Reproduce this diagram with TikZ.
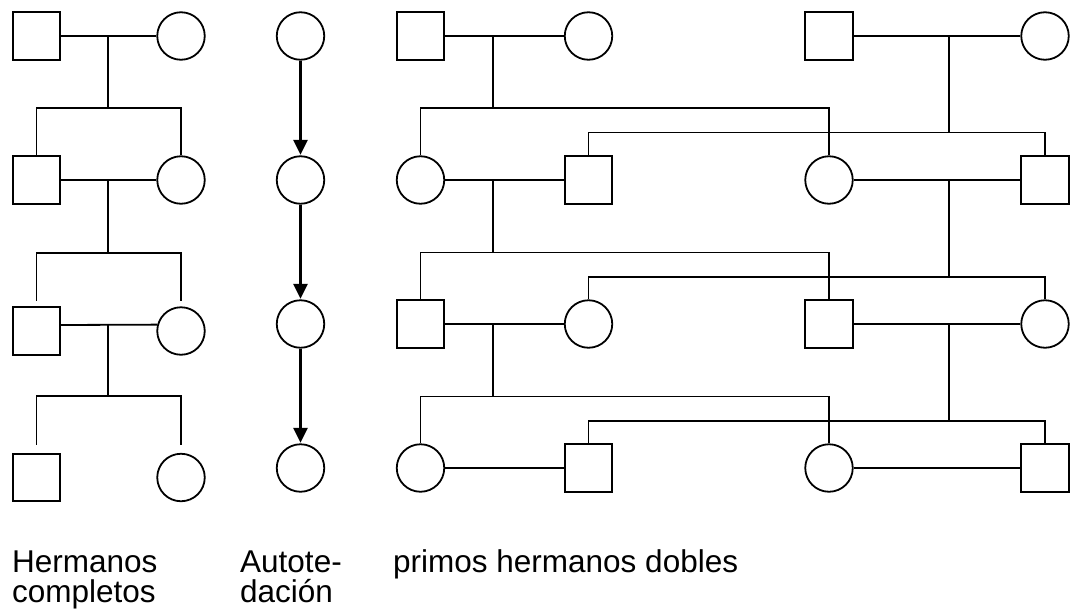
\documentclass[tikz,border=0pt]{standalone}
\usepackage{fontspec}
\setmainfont{Liberation Sans}
\usetikzlibrary{arrows.meta}
\tikzset{
  male/.style={draw, line width=1.8pt, rectangle, minimum size=47.5pt, inner sep=0pt},
  female/.style={draw, line width=1.8pt, circle, minimum size=47.5pt, inner sep=0pt},
  rel/.style={line width=1.8pt},
  descent/.style={line width=2.4pt, -{Triangle[width=14pt,length=15pt]}, shorten >=0.5pt},
  lbl/.style={anchor=base west, inner sep=0pt, align=left, font=\fontsize{31.5}{30.5}\selectfont}
}
\begin{document}
\begin{tikzpicture}[x=1pt, y=-1pt]
\useasboundingbox (0,0) rectangle (1070,610);

% ---------- Hermanos completos ----------
\node[male]   (hs1) at (36.5,36) {};
\node[female] (hc1) at (181,36) {};
\node[male]   (hs2) at (36.5,180) {};
\node[female] (hc2) at (181,180) {};
\node[male]   (hs3) at (36.5,331) {};
\node[female] (hc3) at (181,331) {};
\node[male]   (hs4) at (36.5,477.5) {};
\node[female] (hc4) at (181,477.5) {};

\coordinate (hm1) at (108,36);   \coordinate (hj1) at (108,108);
\coordinate (hm2) at (108,180);  \coordinate (hj2) at (108,253);
\coordinate (hm3) at (108,325);  \coordinate (hj3) at (108,396);
\coordinate (hd3s) at (36.5,300.7); \coordinate (hd3c) at (181,300.7);
\coordinate (hd4s) at (36.5,444.5); \coordinate (hd4c) at (181,444.5);

\draw[rel] (hs1.east) -- (hc1.west);
\draw[rel] (hm1) -- (hj1);
\draw[rel] (hs2.north) |- (hj1) -| (hc2.north);
\draw[rel] (hs2.east) -- (hc2.west);
\draw[rel] (hm2) -- (hj2);
\draw[rel] (hd3s) |- (hj2) -| (hd3c);
\draw[rel] ([yshift=6pt]hs3.east) -- (hc3.165.5);
\draw[rel] (hm3) -- (hj3);
\draw[rel] (hd4s) |- (hj3) -| (hd4c);

% ---------- Autotedacion ----------
\node[female] (a1) at (300.5,36) {};
\node[female] (a2) at (300.5,180) {};
\node[female] (a3) at (300.5,324) {};
\node[female] (a4) at (300.5,468) {};
\draw[descent] (a1.south) -- (a2.north);
\draw[descent] (a2.south) -- (a3.north);
\draw[descent] (a3.south) -- (a4.north);

% ---------- primos hermanos dobles ----------
% row 1
\node[male]   (sA1) at (420.5,36) {};
\node[female] (cB1) at (588.5,36) {};
\node[male]   (sC1) at (829,36) {};
\node[female] (cD1) at (1045,36) {};
% row 2
\node[female] (cA2) at (420.5,180) {};
\node[male]   (sB2) at (588.5,180) {};
\node[female] (cC2) at (829,180) {};
\node[male]   (sD2) at (1045,180) {};
% row 3
\node[male]   (sA3) at (420.5,324) {};
\node[female] (cB3) at (588.5,324) {};
\node[male]   (sC3) at (829,324) {};
\node[female] (cD3) at (1045,324) {};
% row 4
\node[female] (cA4) at (420.5,468) {};
\node[male]   (sB4) at (588.5,468) {};
\node[female] (cC4) at (829,468) {};
\node[male]   (sD4) at (1045,468) {};

\coordinate (m1) at (492.7,36);   \coordinate (j1) at (492.7,108);
\coordinate (m1r) at (948.7,36);  \coordinate (j1r) at (948.7,132.5);
\coordinate (m2) at (492.7,180);  \coordinate (j2) at (492.7,252.5);
\coordinate (m2r) at (948.7,180); \coordinate (j2r) at (948.7,277);
\coordinate (m3) at (492.7,324);  \coordinate (j3) at (492.7,396.5);
\coordinate (m3r) at (948.7,324); \coordinate (j3r) at (948.7,421);

\draw[rel] (sA1.east) -- (cB1.west);
\draw[rel] (sC1.east) -- (cD1.west);
\draw[rel] (m1) -- (j1);
\draw[rel] (m1r) -- (j1r);
\draw[rel] (cA2.north) |- (j1) -| (cC2.north);
\draw[rel] (sB2.north) |- (j1r) -| (sD2.north);

\draw[rel] (cA2.east) -- (sB2.west);
\draw[rel] (cC2.east) -- (sD2.west);
\draw[rel] (m2) -- (j2);
\draw[rel] (m2r) -- (j2r);
\draw[rel] (sA3.north) |- (j2) -| (sC3.north);
\draw[rel] (cB3.north) |- (j2r) -| (cD3.north);

\draw[rel] (sA3.east) -- (cB3.west);
\draw[rel] (sC3.east) -- (cD3.west);
\draw[rel] (m3) -- (j3);
\draw[rel] (m3r) -- (j3r);
\draw[rel] (cA4.north) |- (j3) -| (cC4.north);
\draw[rel] (sB4.north) |- (j3r) -| (sD4.north);

\draw[rel] (cA4.east) -- (sB4.west);
\draw[rel] (cC4.east) -- (sD4.west);

% ---------- labels ----------
\node[lbl] (t1) at (12,602.5) {Hermanos\\completos};
\node[lbl] (t2) at (240,602.5) {Autote-\\dación};
\node[lbl] (t3) at (393,572) {primos hermanos dobles};
\end{tikzpicture}
\end{document}
